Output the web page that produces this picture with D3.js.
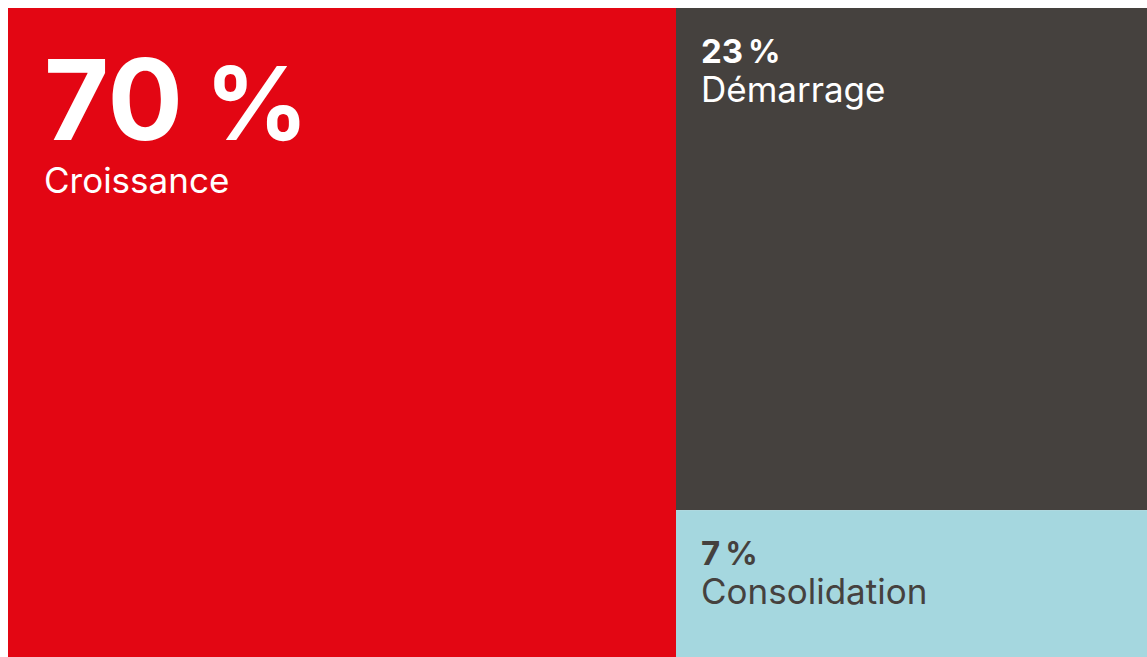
<!DOCTYPE html>
<html>
<head>
<meta charset="utf-8">
<script src="https://cdn.jsdelivr.net/npm/d3@7"></script>
<style>
  html, body { margin: 0; background: #fff; overflow: hidden; }
  #chart { position: absolute; left: 8px; top: 8px; }
  text { font-family: Inter, "Noto Sans", sans-serif; }
</style>
</head>
<body>
<div id="chart"></div>
<script>
// Phases and their shares (%)
const phases = ["Croissance", "Démarrage", "Consolidation"];
const shares = [70, 23, 7];
const fills = ["#e30613", "#45413e", "#a5d7df"];
const inks = ["#ffffff", "#ffffff", "#45413e"];

const width = 1150;
const height = 655;
const leftWidth = 668; // width of the big block, as drawn in the original

const svg = d3.select("#chart")
    .append("svg")
    .attr("width", width)
    .attr("height", height)
    .style("display", "block");

// left column: first phase, right column: the rest stacked
const x = d3.scaleLinear().domain([0, 1]).range([leftWidth, width]);
const rest = shares.slice(1);
const y = d3.scaleLinear().domain([0, d3.sum(rest)]).range([0, height]);

const cells = phases.map((p, i) => {
    if (i === 0) return { x0: 0, x1: leftWidth, y0: 0, y1: height, i };
    const before = d3.sum(rest.slice(0, i - 1));
    return { x0: x(0), x1: x(1), y0: y(before), y1: y(before + rest[i - 1]), i };
});

const g = svg.selectAll("g.cell")
    .data(cells)
    .enter()
    .append("g")
    .attr("class", "cell")
    .attr("transform", d => `translate(${d.x0},${d.y0})`);

g.append("rect")
    .attr("width", d => d.x1 - d.x0)
    .attr("height", d => d.y1 - d.y0)
    .attr("fill", d => fills[d.i]);

// big number for the main block, smaller for the others
const num = g.append("text")
    .attr("x", d => d.i === 0 ? 36 : 25)
    .attr("y", d => d.i === 0 ? 132 : 55)
    .attr("fill", d => inks[d.i])
    .style("font-size", d => d.i === 0 ? "112px" : "33px")
    .style("font-weight", 700);

num.append("tspan")
    .text(d => shares[d.i]);

num.append("tspan")
    .attr("dx", d => d.i === 0 ? 22 : 5)
    .style("font-size", d => d.i === 0 ? "102px" : "32px")
    .text("%");

g.append("text")
    .attr("x", d => d.i === 0 ? 36 : 25)
    .attr("y", d => d.i === 0 ? 185 : 94)
    .attr("fill", d => inks[d.i])
    .style("font-size", "35px")
    .style("font-weight", 400)
    .text(d => phases[d.i]);
</script>
</body>
</html>
